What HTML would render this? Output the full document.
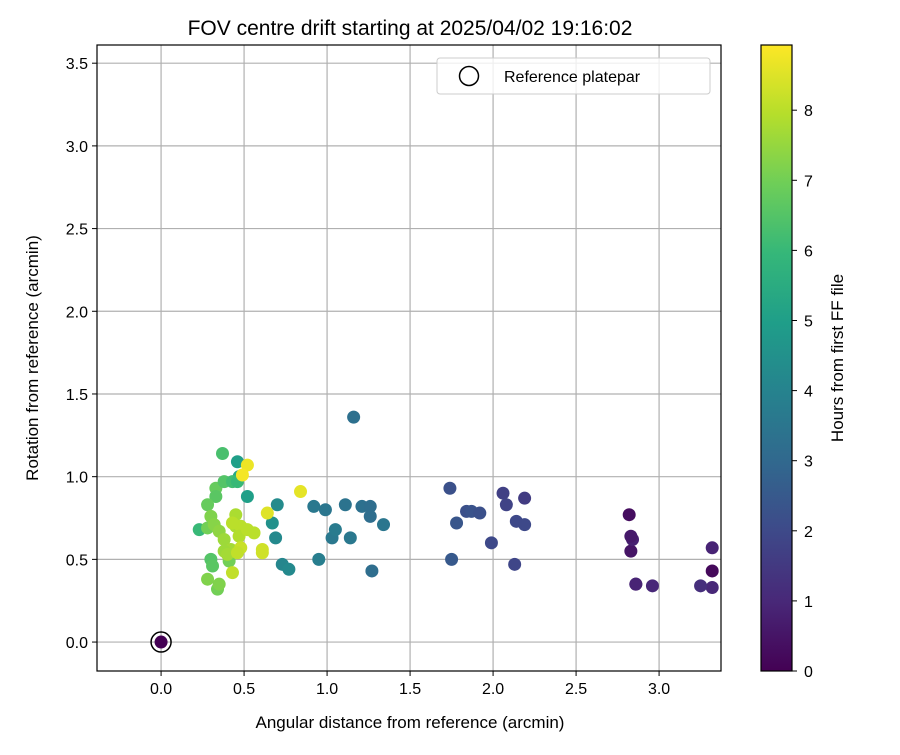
<!DOCTYPE html>
<html><head><meta charset="utf-8"><style>
body{margin:0;background:#fff;font-family:"Liberation Sans","DejaVu Sans",sans-serif}
</style></head><body>
<svg id="c" width="900" height="750" xmlns="http://www.w3.org/2000/svg" font-family="Liberation Sans, DejaVu Sans, sans-serif">
<defs><linearGradient id="vg" x1="0" y1="1" x2="0" y2="0">
<stop offset="0" stop-color="#440154"/><stop offset="0.111" stop-color="#482878"/><stop offset="0.222" stop-color="#3e4989"/><stop offset="0.333" stop-color="#31688e"/><stop offset="0.444" stop-color="#26828e"/><stop offset="0.556" stop-color="#1f9e89"/><stop offset="0.667" stop-color="#35b779"/><stop offset="0.778" stop-color="#6ece58"/><stop offset="0.889" stop-color="#b5de2b"/><stop offset="1" stop-color="#fde725"/></linearGradient></defs>
<g id="grid"></g><g id="pts"></g><g id="axes"></g>
</svg>
<script>
const xs=[3.32,3.32,3.32,3.25,2.96,2.86,2.86,2.83,2.84,2.83,2.82,1.74,1.75,1.78,1.84,1.87,1.92,1.99,2.06,2.08,2.13,2.14,2.19,2.19,1.16,0.92,0.99,0.95,1.03,1.05,1.11,1.14,1.21,1.26,1.26,1.27,1.34,0.70,0.67,0.69,0.73,0.77,0.46,0.52,0.47,0.37,0.23,0.34,0.35,0.28,0.30,0.31,0.28,0.33,0.33,0.38,0.43,0.46,0.28,0.30,0.32,0.35,0.38,0.41,0.42,0.45,0.45,0.48,0.38,0.40,0.43,0.47,0.84,0.52,0.49,0.64,0.61,0.61,0.48,0.46,0.43,0.52,0.56];
const ys=[0.57,0.43,0.33,0.34,0.34,0.35,0.35,0.55,0.62,0.64,0.77,0.93,0.50,0.72,0.79,0.79,0.78,0.60,0.90,0.83,0.47,0.73,0.71,0.87,1.36,0.82,0.80,0.50,0.63,0.68,0.83,0.63,0.82,0.82,0.76,0.43,0.71,0.83,0.72,0.63,0.47,0.44,1.09,0.88,1.00,1.14,0.68,0.32,0.35,0.38,0.50,0.46,0.69,0.93,0.88,0.97,0.97,0.97,0.83,0.76,0.71,0.67,0.62,0.49,0.56,0.77,0.70,0.70,0.55,0.53,0.72,0.64,0.91,1.07,1.01,0.78,0.56,0.54,0.57,0.54,0.42,0.68,0.66];
const hs=[0.9,0.2,1.0,1.2,1.0,0.8,0.9,0.5,0.8,0.6,0.3,2.2,2.5,2.4,2.2,2.3,2.2,2.0,1.7,1.8,1.9,2.0,2.0,1.6,3.3,3.6,3.5,3.8,3.6,3.7,3.4,3.6,3.3,3.2,3.2,3.2,3.5,4.3,4.5,4.2,4.1,4.2,5.0,5.0,5.3,6.3,6.0,7.0,7.2,7.2,6.5,6.6,7.0,6.8,6.6,6.5,6.2,6.0,6.8,7.2,7.3,7.4,7.6,7.0,7.7,7.8,7.8,8.0,7.6,7.7,8.0,7.9,8.6,8.7,8.8,8.5,8.3,8.3,8.2,8.1,8.1,8.0,8.0];
const xTicks=["0.0","0.5","1.0","1.5","2.0","2.5","3.0"];
const yTicks=["0.0","0.5","1.0","1.5","2.0","2.5","3.0","3.5"];
const cTicks=["0","1","2","3","4","5","6","7","8"];
const L=97,R=721,T=45,B=671,X0=-0.386,X1=3.373,Y0=-0.175,Y1=3.61,HMAX=8.93;
const sx=v=>L+(v-X0)/(X1-X0)*(R-L), sy=v=>B-(v-Y0)/(Y1-Y0)*(B-T), sc=h=>671-h/HMAX*626;
const V=[[68,1,84],[72,40,120],[62,73,137],[49,104,142],[38,130,142],[31,158,137],[53,183,121],[110,206,88],[181,222,43],[253,231,37]];
function vir(t){t=Math.max(0,Math.min(1,t))*9;const i=Math.min(8,Math.floor(t)),f=t-i;const c=V[i].map((a,k)=>Math.round(a+(V[i+1][k]-a)*f));return `rgb(${c})`;}
const NS="http://www.w3.org/2000/svg";
function mk(p,t,a,txt){const e=document.createElementNS(NS,t);for(const k in a)e.setAttribute(k,a[k]);if(txt!==undefined)e.textContent=txt;p.appendChild(e);return e;}
const g=document.getElementById('grid'),pg=document.getElementById('pts'),ax=document.getElementById('axes');
xTicks.forEach(t=>{const x=sx(+t);
const l=mk(g,'line',{x1:x,x2:x,y1:T,y2:B,stroke:'#b0b0b0','stroke-width':1.2});


mk(ax,'line',{x1:x,x2:x,y1:B,y2:B+5,stroke:'#000'});
const tx=mk(ax,'text',{x:x,y:B+23,'text-anchor':'middle','font-size':16},t);

});
yTicks.forEach(t=>{const y=sy(+t);
const l=mk(g,'line',{x1:L,x2:R,y1:y,y2:y,stroke:'#b0b0b0','stroke-width':1.2});


mk(ax,'line',{x1:L-5,x2:L,y1:y,y2:y,stroke:'#000'});
const tx=mk(ax,'text',{x:L-9,y:y+6,'text-anchor':'end','font-size':16},t);

});
xs.forEach((v,i)=>{const c=mk(pg,'circle',{cx:sx(v),cy:sy(ys[i]),r:6.5,fill:vir(hs[i]/HMAX)});

});
const rf=mk(pg,'circle',{cx:sx(0),cy:sy(0),r:6.5,fill:vir(0)});


const rr=mk(pg,'circle',{cx:sx(0),cy:sy(0),r:10,fill:'none',stroke:'#000','stroke-width':1.5});


mk(ax,'rect',{x:L,y:T,width:R-L,height:B-T,fill:'none',stroke:'#000','stroke-width':1.2});
const ti=mk(ax,'text',{x:410,y:35,'text-anchor':'middle','font-size':21},'FOV centre drift starting at 2025/04/02 19:16:02');

const xl=mk(ax,'text',{x:410,y:728,'text-anchor':'middle','font-size':17},'Angular distance from reference (arcmin)');

const yl=mk(ax,'text',{x:38,y:358,'text-anchor':'middle','font-size':17,transform:'rotate(-90 38 358)'},'Rotation from reference (arcmin)');

const lg=mk(ax,'g',{});

mk(lg,'rect',{x:437,y:58,width:273,height:36,rx:3,fill:'#fff','fill-opacity':0.8,stroke:'#ccc'});
mk(lg,'circle',{cx:469,cy:76,r:9.5,fill:'none',stroke:'#000','stroke-width':1.5});
mk(lg,'text',{x:504,y:82,'font-size':16},'Reference platepar');
const cb=mk(ax,'rect',{x:761,y:45,width:31,height:626,fill:'url(#vg)',stroke:'#000','stroke-width':1.2});

cTicks.forEach(t=>{const y=sc(+t);mk(ax,'line',{x1:792,x2:797,y1:y,y2:y,stroke:'#000'});
const tx=mk(ax,'text',{x:804,y:y+6,'font-size':16},t);

});
const cl=mk(ax,'text',{x:843,y:358,'text-anchor':'middle','font-size':17,transform:'rotate(-90 843 358)'},'Hours from first FF file');

</script>
</body></html>
